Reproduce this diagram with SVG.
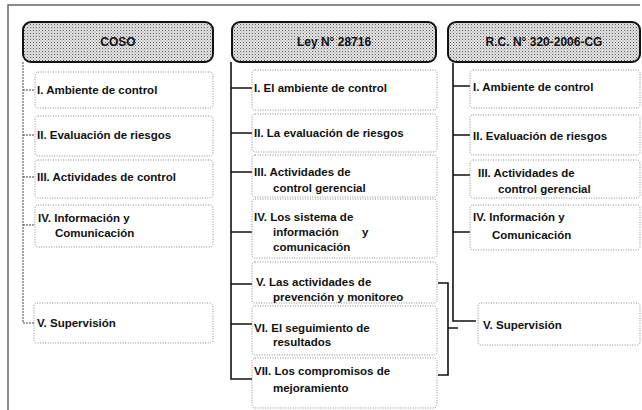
<svg xmlns="http://www.w3.org/2000/svg" width="642" height="410" viewBox="0 0 642 410">
<defs>
<pattern id="dots" width="3" height="3" patternUnits="userSpaceOnUse">
<rect width="3" height="3" fill="#e6e6e6"/>
<rect x="0" y="0" width="1" height="1" fill="#555"/>
<rect x="1.5" y="1.5" width="1" height="1" fill="#888"/>
</pattern>
</defs>
<style>
.hdr{fill:url(#dots);stroke:#111;stroke-width:2}
.box{fill:none;stroke:#8a8a8a;stroke-width:1;stroke-dasharray:1 1.5}
.t{font-family:"Liberation Sans",Arial,sans-serif;font-weight:bold;font-size:11.5px;fill:#111}
.h{font-family:"Liberation Sans",Arial,sans-serif;font-weight:bold;font-size:12px;fill:#111;text-anchor:middle}
.ln{fill:none;stroke:#111;stroke-width:1.6}
.lnl{fill:none;stroke:#444;stroke-width:1;stroke-dasharray:2 1}
.frame{fill:none;stroke:#666;stroke-width:1.5}
</style>
<path class="frame" d="M8,410 V5 H640"/>
<g id="connectors">
<path class="lnl" d="M23,62 V323 H34"/>
<path class="lnl" d="M23,90 H35 M23,135 H35 M23,177 H35 M23,225 H35"/>
<path class="ln" d="M231,62 V379 H252"/>
<path class="ln" d="M231,88 H252 M231,133 H252 M231,172 H252 M231,232 H252 M231,284 H252 M231,324 H252"/>
<path class="ln" d="M453,63 V321 H476"/>
<path class="ln" d="M453,86 H470 M453,135 H470 M453,175 H470 M453,232 H470"/>
<path class="ln" d="M438,283 H448 V375 H438 M448,328 H458"/>
</g>
<g id="coso">
<rect class="hdr" x="23" y="22" width="190" height="40" rx="8"/>
<text class="h" x="118" y="46">COSO</text>
</g>
<g id="ley">
<rect class="hdr" x="232" y="22" width="204" height="40" rx="8"/>
<text class="h" x="334" y="46">Ley N° 28716</text>
</g>
<g id="rc">
<rect class="hdr" x="448" y="22" width="192" height="40" rx="8"/>
<text class="h" x="544" y="46">R.C. N° 320-2006-CG</text>
</g>
<g id="coso1"><rect class="box" x="35" y="72" width="178" height="36" rx="3"/><text class="t" x="37" y="94">I. Ambiente de control</text></g>
<g id="coso2"><rect class="box" x="35" y="116" width="178" height="40" rx="3"/><text class="t" x="37" y="139">II. Evaluación de riesgos</text></g>
<g id="coso3"><rect class="box" x="35" y="160" width="178" height="38" rx="3"/><text class="t" x="37" y="181">III. Actividades de control</text></g>
<g id="coso4"><rect class="box" x="35" y="205" width="178" height="42" rx="3"/><text class="t" x="38" y="222">IV. Información y</text><text class="t" x="55" y="237">Comunicación</text></g>
<g id="coso5"><rect class="box" x="34" y="303" width="179" height="40" rx="3"/><text class="t" x="37" y="327">V. Supervisión</text></g>
<g id="ley1"><rect class="box" x="252" y="70" width="185" height="40" rx="3"/><text class="t" x="254" y="92">I. El ambiente de control</text></g>
<g id="ley2"><rect class="box" x="252" y="114" width="185" height="38" rx="3"/><text class="t" x="254" y="137">II. La evaluación de riesgos</text></g>
<g id="ley3"><rect class="box" x="252" y="155" width="185" height="42" rx="3"/><text class="t" x="254" y="176">III. Actividades de</text><text class="t" x="273" y="192">control gerencial</text></g>
<g id="ley4"><rect class="box" x="252" y="199" width="185" height="59" rx="3"/><text class="t" x="254" y="221">IV. Los sistema de</text><text class="t" x="273" y="236">información</text><text class="t" x="362" y="236">y</text><text class="t" x="273" y="251">comunicación</text></g>
<g id="ley5"><rect class="box" x="252" y="262" width="185" height="41" rx="3"/><text class="t" x="256" y="286">V. Las actividades de</text><text class="t" x="273" y="301">prevención y monitoreo</text></g>
<g id="ley6"><rect class="box" x="252" y="306" width="185" height="49" rx="3"/><text class="t" x="254" y="332">VI. El seguimiento de</text><text class="t" x="273" y="346">resultados</text></g>
<g id="ley7"><rect class="box" x="252" y="358" width="185" height="50" rx="3"/><text class="t" x="254" y="375">VII. Los compromisos de</text><text class="t" x="273" y="392">mejoramiento</text></g>
<g id="rc1"><rect class="box" x="470" y="70" width="170" height="38" rx="3"/><text class="t" x="473" y="91">I. Ambiente de control</text></g>
<g id="rc2"><rect class="box" x="470" y="115" width="170" height="40" rx="3"/><text class="t" x="473" y="140">II. Evaluación de riesgos</text></g>
<g id="rc3"><rect class="box" x="470" y="160" width="170" height="38" rx="3"/><text class="t" x="478" y="177">III. Actividades de</text><text class="t" x="498" y="193">control gerencial</text></g>
<g id="rc4"><rect class="box" x="470" y="205" width="170" height="45" rx="3"/><text class="t" x="473" y="221">IV. Información y</text><text class="t" x="492" y="239">Comunicación</text></g>
<g id="rc5"><rect class="box" x="478" y="303" width="162" height="42" rx="3"/><text class="t" x="483" y="329">V. Supervisión</text></g>
</svg>
